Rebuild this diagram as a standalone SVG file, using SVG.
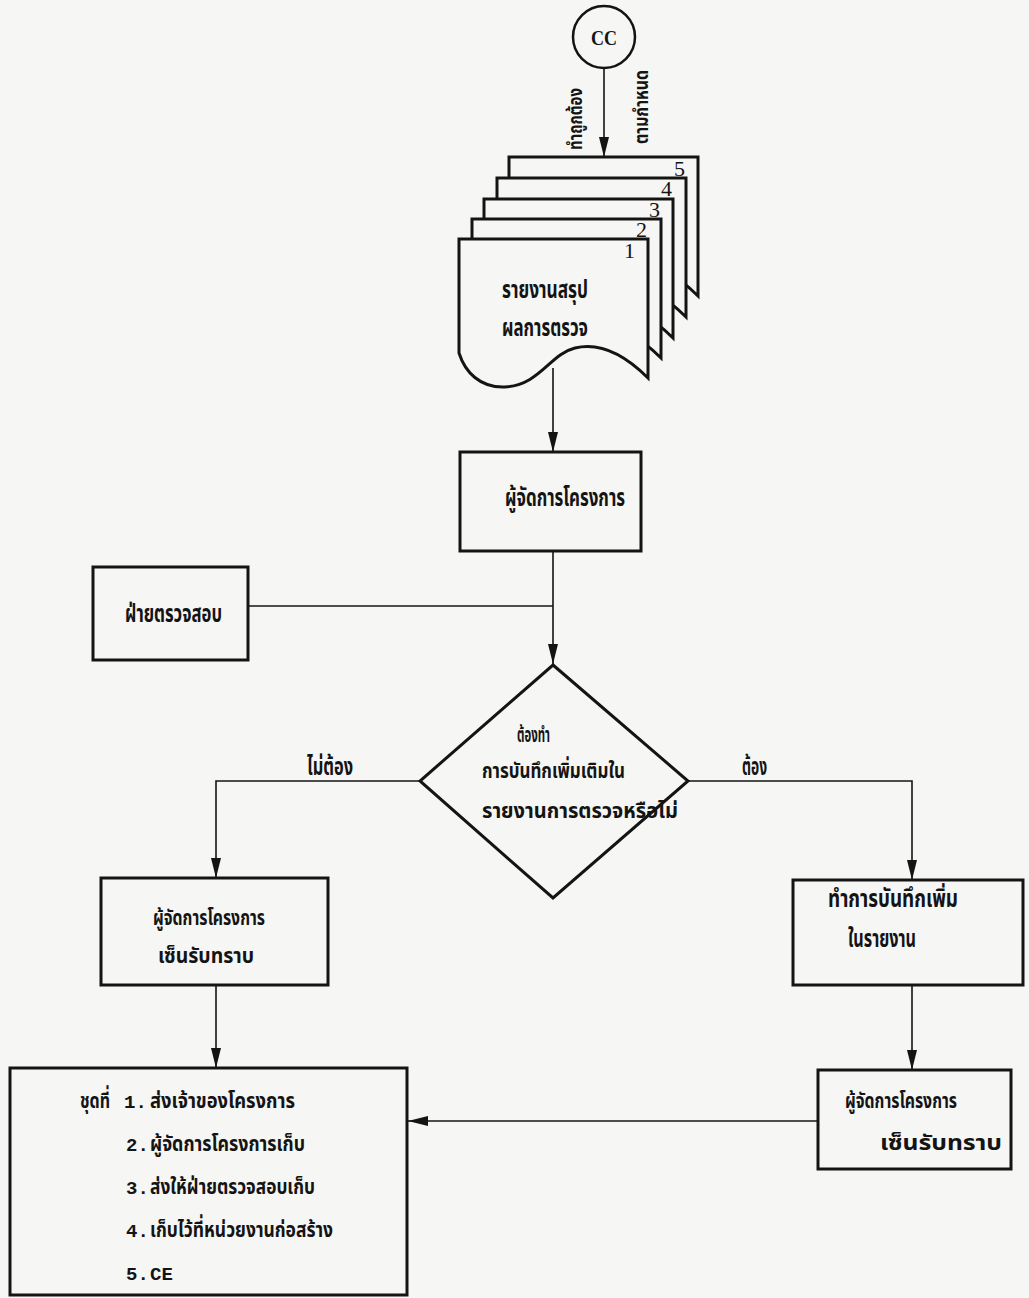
<svg xmlns="http://www.w3.org/2000/svg" width="1029" height="1298" viewBox="0 0 1029 1298">
<defs>
<style>
.bx{fill:none;stroke:#141414;stroke-width:3}
.sh{fill:#f6f6f4;stroke:#141414;stroke-width:3}
.ln{fill:none;stroke:#141414;stroke-width:1.6}
.t{font-family:'Noto Sans Thai','Noto Sans','DejaVu Sans',sans-serif;font-weight:bold;font-size:24px;fill:#141414}
.s{font-size:22px}
.m{font-family:'Liberation Mono',monospace;font-weight:bold;font-size:19px;fill:#141414}
.n{font-family:'Liberation Serif',serif;font-size:22px;fill:#141414}
</style>
<marker id="ah" viewBox="0 0 20 10" refX="20" refY="5" markerWidth="20" markerHeight="10" markerUnits="userSpaceOnUse" orient="auto">
<path d="M0,0 L20,5 L0,10 Z" fill="#141414"/>
</marker>
<path id="sheet" d="M459,239 H648 V378 C625,355 600,342 575,348 C550,354 540,385 505,387 C480,388 465,372 459,353 Z"/>
</defs>
<rect width="1029" height="1298" fill="#f6f6f4"/>

<g id="connectors">
<line class="ln" x1="604" y1="68" x2="604" y2="157" marker-end="url(#ah)"/>
<line class="ln" x1="553" y1="368" x2="553" y2="452" marker-end="url(#ah)"/>
<line class="ln" x1="553" y1="551" x2="553" y2="664" marker-end="url(#ah)"/>
<line class="ln" x1="248" y1="606" x2="553" y2="606"/>
<polyline class="ln" points="420,781 216,781 216,878" marker-end="url(#ah)"/>
<polyline class="ln" points="688,781 912,781 912,880" marker-end="url(#ah)"/>
<line class="ln" x1="216" y1="985" x2="216" y2="1068" marker-end="url(#ah)"/>
<line class="ln" x1="912" y1="985" x2="912" y2="1070" marker-end="url(#ah)"/>
<line class="ln" x1="818" y1="1121" x2="408" y2="1121" marker-end="url(#ah)"/>
</g>

<g id="cc">
<circle cx="604" cy="37" r="31" fill="none" stroke="#141414" stroke-width="2.5"/>
<text x="604" y="45" text-anchor="middle" font-family="'Liberation Serif',serif" font-weight="bold" font-size="22" fill="#141414" textLength="26" lengthAdjust="spacingAndGlyphs">CC</text>
<text class="t" style="font-size:19px" transform="translate(582,150) rotate(-90)" textLength="62" lengthAdjust="spacingAndGlyphs">ทำถูกต้อง</text>
<text class="t" style="font-size:19px" transform="translate(648,144) rotate(-90)" textLength="74" lengthAdjust="spacingAndGlyphs">ตามกำหนด</text>
</g>

<g id="report">
<use href="#sheet" class="sh" transform="translate(50,-82)"/>
<use href="#sheet" class="sh" transform="translate(38,-61)"/>
<use href="#sheet" class="sh" transform="translate(25,-40)"/>
<use href="#sheet" class="sh" transform="translate(13,-20)"/>
<use href="#sheet" class="sh"/>
<text class="n" x="685" y="176" text-anchor="end">5</text>
<text class="n" x="672" y="196" text-anchor="end">4</text>
<text class="n" x="660" y="217" text-anchor="end">3</text>
<text class="n" x="647" y="237" text-anchor="end">2</text>
<text class="n" x="635" y="258" text-anchor="end">1</text>
<text class="t" x="502" y="298" textLength="86" lengthAdjust="spacingAndGlyphs">รายงานสรุป</text>
<text class="t" x="502" y="336" textLength="86" lengthAdjust="spacingAndGlyphs">ผลการตรวจ</text>
</g>

<g id="manager">
<rect class="bx" x="460" y="452" width="181" height="99"/>
<text class="t" x="505" y="506" textLength="120" lengthAdjust="spacingAndGlyphs">ผู้จัดการโครงการ</text>
</g>

<g id="inspection">
<rect class="bx" x="93" y="567" width="155" height="93"/>
<text class="t" x="125" y="622" textLength="97" lengthAdjust="spacingAndGlyphs">ฝ่ายตรวจสอบ</text>
</g>

<g id="decision">
<polygon class="bx" points="553,665 688,781 553,898 420,781"/>
<text class="t s" x="517" y="742" textLength="33" lengthAdjust="spacingAndGlyphs">ต้องทำ</text>
<text class="t s" x="482" y="778" textLength="143" lengthAdjust="spacingAndGlyphs">การบันทึกเพิ่มเติมใน</text>
<text class="t s" x="482" y="818" textLength="196" lengthAdjust="spacingAndGlyphs">รายงานการตรวจหรือไม่</text>
<text class="t" x="307" y="775" textLength="46" lengthAdjust="spacingAndGlyphs">ไม่ต้อง</text>
<text class="t" x="742" y="775" textLength="25" lengthAdjust="spacingAndGlyphs">ต้อง</text>
</g>

<g id="ack-left">
<rect class="bx" x="101" y="878" width="227" height="107"/>
<text class="t s" x="153" y="925" textLength="112" lengthAdjust="spacingAndGlyphs">ผู้จัดการโครงการ</text>
<text class="t s" x="158" y="963" textLength="96" lengthAdjust="spacingAndGlyphs">เซ็นรับทราบ</text>
</g>

<g id="add-note">
<rect class="bx" x="793" y="880" width="230" height="105"/>
<text class="t" x="828" y="907" textLength="130" lengthAdjust="spacingAndGlyphs">ทำการบันทึกเพิ่ม</text>
<text class="t" x="848" y="947" textLength="68" lengthAdjust="spacingAndGlyphs">ในรายงาน</text>
</g>

<g id="ack-right">
<rect class="bx" x="818" y="1070" width="193" height="99"/>
<text class="t s" x="845" y="1108" textLength="112" lengthAdjust="spacingAndGlyphs">ผู้จัดการโครงการ</text>
<text class="t s" x="880" y="1150" textLength="122" lengthAdjust="spacingAndGlyphs">เซ็นรับทราบ</text>
</g>

<g id="distribution">
<rect class="bx" x="10" y="1068" width="397" height="227"/>
<text class="t s" x="80" y="1108" textLength="30" lengthAdjust="spacingAndGlyphs">ชุดที่</text>
<text class="m" x="124" y="1108">1.</text>
<text class="t s" x="150" y="1108" textLength="145" lengthAdjust="spacingAndGlyphs">ส่งเจ้าของโครงการ</text>
<text class="m" x="126" y="1151">2.</text>
<text class="t s" x="150" y="1151" textLength="155" lengthAdjust="spacingAndGlyphs">ผู้จัดการโครงการเก็บ</text>
<text class="m" x="126" y="1194">3.</text>
<text class="t s" x="150" y="1194" textLength="165" lengthAdjust="spacingAndGlyphs">ส่งให้ฝ่ายตรวจสอบเก็บ</text>
<text class="m" x="126" y="1237">4.</text>
<text class="t s" x="150" y="1237" textLength="183" lengthAdjust="spacingAndGlyphs">เก็บไว้ที่หน่วยงานก่อสร้าง</text>
<text class="m" x="126" y="1280">5.</text>
<text class="m" x="150" y="1280">CE</text>
</g>
</svg>
